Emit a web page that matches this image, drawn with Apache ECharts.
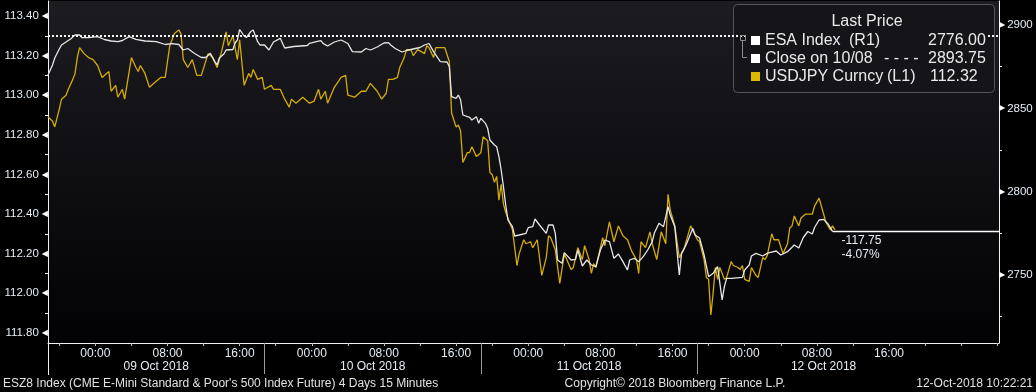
<!DOCTYPE html>
<html><head><meta charset="utf-8">
<script src="https://cdn.jsdelivr.net/npm/echarts@6.0.0/dist/echarts.min.js"></script>
<style>html,body{margin:0;padding:0;background:#000;overflow:hidden}#c{width:1036px;height:392px}</style>
</head><body><div id="c"></div>
<script>
// ---- DATA (hours since 09 Oct 2018 00:00) ----
const esaHours = [
-5.25,-4.75,-4.5,-4,-3.75,-3.25,-2.75,-2.25,-1.75,-1.5,
-0.75,0.25,1,1.75,2.5,3,3.75,4.5,5.5,6.75,
7.75,8.5,9.25,9.75,10.25,11,11.75,12.25,12.75,13.25,
13.5,13.75,14.25,14.5,15.25,15.5,15.75,16,16.5,16.75,
17.25,17.5,18,18.25,18.75,19.25,19.75,20.5,21,22,
23.5,23.75,24.5,25,25.25,25.75,26.5,27.25,28,28.5,
29.5,30,30.5,31.25,32,32.5,32.75,33.25,34,34.5,
35.25,36,36.5,37,37.5,38.25,39,39.25,39.5,40,
40.25,40.5,40.75,41.5,41.75,42.25,42.5,42.75,43.25,43.5,
43.75,44.25,44.5,44.75,45,45.25,45.5,45.75,46.25,46.5,
47,47.75,48,48.5,48.75,49.25,50,50.25,50.75,51,
51.25,51.75,52,52.75,53.25,53.5,54,54.5,55,55.5,
56,56.5,57,57.5,58,58.5,59,59.25,59.75,60.25,
60.75,61.25,61.75,62,62.5,63,63.5,63.75,64.25,64.75,
65,65.5,66.25,66.5,67,67.5,68,68.5,69,69.5,
69.75,70,70.5,71.75,72,72.5,72.75,73.25,74,74.5,
74.75,75.5,76,76.75,77.5,78,78.5,79,79.5,79.75,
80.25,80.75,81.25,81.75
];
const esaValues = [
2870,2876,2880.2,2885.6,2888,2889.8,2891.6,2894,2894,2892.5,
2892.4,2893,2891.3,2890.4,2890,2890.7,2893,2891.4,2890.4,2890,
2888.3,2888.8,2888.3,2885,2885.9,2882.9,2880.5,2880.5,2883,2878,
2876,2880.2,2882.6,2885,2885.3,2889.2,2891,2897.3,2893.4,2892.5,
2896.1,2897,2890,2888,2888,2885,2889.8,2892,2886.2,2887.1,
2887.7,2889,2890,2890.6,2889,2887.4,2889.8,2891,2888.9,2884,
2883.8,2885.9,2885,2886.8,2889.2,2889.4,2888,2885.9,2883.8,2884.7,
2885.6,2886.5,2888,2888.9,2884,2878,2877.8,2875,2857,2856,
2858,2855,2846,2844.6,2843,2845,2841,2844,2841,2838,
2831,2828,2827,2821,2813,2803,2792,2783,2779,2773.4,
2774,2775,2778.4,2779,2783.6,2780,2775,2780,2780,2775,
2759,2757,2763.4,2759,2759.4,2765,2755.4,2759,2756,2755,
2765,2771,2770,2760,2762.6,2758,2753,2759,2760,2758,
2761,2765,2770,2775.4,2781,2779,2791,2786,2779,2750,
2763,2768,2778,2774,2772.2,2762,2749,2751,2755,2735,
2743,2748,2748,2748.6,2753,2756,2761.4,2763,2761.4,2763,
2763.4,2764.4,2762,2764,2768,2766.2,2772.5,2776.1,2774.6,2778.5,
2783,2783.4,2780.6,2776
];
const jpyHours = [
-5.25,-4.75,-4.5,-4,-3.75,-3.25,-3,-2.5,-2.25,-2,
-1.75,-1.25,-0.75,-0.25,0.25,0.75,1,1.5,1.75,2.25,
2.5,3,3.25,4,4.5,4.75,5,5.5,6,6.75,
7.25,7.75,8.25,8.75,9.25,9.5,9.75,10.25,10.75,11.25,
11.75,12.5,13,13.5,14,14.5,14.75,15.25,15.75,16,
16.5,17,17.25,17.5,18,18.5,18.75,19.5,19.75,20.5,
21,21.5,21.75,22.25,23,23.25,23.75,24.25,24.75,25,
25.5,25.75,26.5,27.25,27.75,28,28.75,29.5,30,30.5,
31.25,31.75,32.25,32.5,33,33.5,33.75,34.25,34.5,35,
35.25,35.75,36.5,36.75,37,37.5,37.75,38.25,38.75,39.25,
39.5,40,40.25,40.5,40.75,41.25,41.5,41.75,42.25,42.75,
43,43.5,43.75,44,44.25,44.5,44.75,45,45.25,45.5,
46,46.25,46.75,47,47.5,47.75,48.25,48.5,49,49.5,
50,50.25,50.5,51,51.5,52,52.75,53,53.5,54,
54.25,54.75,55,55.25,55.5,56.25,56.5,57,57.5,58,
58.5,59,59.5,60,60.25,60.5,61,61.5,61.75,62.25,
62.75,63.25,63.5,63.75,64.25,64.75,65.25,66,66.25,66.75,
67,67.5,67.75,68,68.25,68.5,68.75,69,69.25,69.75,
70,70.5,70.75,71.25,71.5,71.75,72,72.5,72.75,73.25,
73.5,74,74.25,74.5,75,75.25,75.75,76.25,76.75,77,
77.25,77.5,78,78.25,78.75,79.25,79.5,79.75,80.25,80.75,
81,81.5,81.75,82
];
const jpyValues = [
112.89,112.87,112.84,112.93,112.98,113.00,113.03,113.08,113.11,113.19,
113.24,113.21,113.19,113.18,113.15,113.09,113.10,113.12,113.02,113.05,
112.99,113.03,112.98,113.19,113.14,113.12,113.15,113.11,113.04,113.07,
113.09,113.09,113.25,113.31,113.33,113.31,113.18,113.14,113.18,113.10,
113.10,113.21,113.19,113.14,113.22,113.32,113.25,113.30,113.18,113.28,
113.05,113.11,113.09,113.13,113.08,113.09,113.03,113.05,113.03,113.03,
112.98,112.94,112.98,112.96,112.99,112.98,112.96,112.97,113.03,112.98,
113.02,112.96,113.04,113.09,113.10,113.00,112.99,113.02,113.02,113.06,
113.02,112.98,113.01,113.08,113.08,113.09,113.14,113.19,113.23,113.23,
113.20,113.23,113.21,113.25,113.24,113.19,113.24,113.24,113.24,113.17,
112.91,112.84,112.85,112.82,112.66,112.71,112.71,112.74,112.69,112.71,
112.79,112.77,112.61,112.60,112.56,112.59,112.47,112.55,112.45,112.41,
112.35,112.32,112.14,112.20,112.27,112.25,112.26,112.23,112.27,112.09,
112.18,112.29,112.28,112.22,112.05,112.20,112.12,112.13,112.23,112.17,
112.24,112.17,112.10,112.15,112.13,112.28,112.24,112.36,112.26,112.34,
112.29,112.27,112.21,112.17,112.10,112.26,112.23,112.31,112.25,112.17,
112.31,112.25,112.50,112.42,112.34,112.18,112.22,112.34,112.32,112.27,
112.26,112.17,112.08,112.07,111.89,112.00,112.13,112.07,112.13,112.07,
112.08,112.16,112.14,112.13,112.12,112.14,112.07,112.06,112.13,112.09,
112.08,112.18,112.17,112.19,112.30,112.27,112.27,112.20,112.25,112.33,
112.34,112.39,112.34,112.38,112.40,112.40,112.40,112.44,112.48,112.40,
112.36,112.32,112.34,112.32
];
const closeValue = 2893.75;
const closeLabel = 'Close on 10/08';
const leftLabels = [111.8,112.0,112.2,112.4,112.6,112.8,113.0,113.2,113.4];
const leftTicks = [111.8,111.9,112.0,112.1,112.2,112.3,112.4,112.5,112.6,112.7,112.8,112.9,113.0,113.1,113.2,113.3,113.4];
const rightLabels = [2750,2800,2850,2900];
const rightTicks = [2725,2750,2775,2800,2825,2850,2875,2900];
const timeLabels = [0,8,16,24,32,40,48,56,64,72,80,88];
const timeTicks = [-4,0,4,8,12,16,20,24,28,32,36,40,44,48,52,56,60,64,68,72,76,80,84,88,92,96,100];
const dayNames = ['09 Oct 2018','10 Oct 2018','11 Oct 2018','12 Oct 2018'];
const dayCenters = [6.75,30.75,54.75,80.75];
const daySeparators = [18.75,42.75,66.75];
const footerLeft = "ESZ8 Index (CME E-Mini Standard & Poor's 500 Index Future) 4 Days 15 Minutes";
const footerMid = 'Copyright\u00a9 2018 Bloomberg Finance L.P.';
const footerRight = '12-Oct-2018 10:22:21';

// ---- CHART ----
const X_MIN = -5.25, X_MAX = 100.2;
const FONT = 'Liberation Sans';
const TXT = '#e6edf5';
const esaData = esaHours.map((h, i) => [h, esaValues[i]]);
const jpyData = jpyHours.map((h, i) => [h, jpyValues[i]]);
const lastEsa = esaValues[esaValues.length - 1];
const lastJpy = jpyValues[jpyValues.length - 1];
const lastH = esaHours[esaHours.length - 1];
const chg = lastEsa - closeValue;
const pct = chg / closeValue * 100;
const hhmm = v => { const h = ((v % 24) + 24) % 24; return String(h).padStart(2, '0') + ':00'; };

const chart = echarts.init(document.getElementById('c'), null, { renderer: 'canvas' });
const legendRow = (y, sq, name, nameX, suffix, suffixX, val, valX) => {
  const st = { font: '16px "Liberation Sans"', fill: '#e9e9e9', verticalAlign: 'middle' };
  const els = [
    { type: 'rect', shape: { x: 751, y: y - 4.5, width: 9, height: 9 }, style: { fill: sq }, z: 102 },
    { type: 'text', style: Object.assign({ x: nameX, y: y, text: name }, st), z: 102 },
    { type: 'text', style: Object.assign({ x: valX, y: y, text: val }, st), z: 102 }
  ];
  if (suffix) els.push({ type: 'text', style: Object.assign({ x: suffixX, y: y, text: suffix }, st), z: 102 });
  return els;
};
const option = {
  backgroundColor: '#000',
  animation: false,
  grid: { left: 48, right: 37, top: 1, bottom: 49, show: true, borderWidth: 0,
    backgroundColor: { type: 'linear', x: 0, y: 0, x2: 0, y2: 1,
      colorStops: [{ offset: 0, color: '#1c1c21' }, { offset: 1, color: '#020204' }] } },
  xAxis: [
    { type: 'value', min: X_MIN, max: X_MAX, position: 'bottom',
      axisLine: { show: true, onZero: false, lineStyle: { color: '#f2f2f2', width: 1 } },
      axisTick: { show: true, customValues: timeTicks, length: 3, lineStyle: { color: '#bdbdbd' } },
      axisLabel: { customValues: timeLabels, formatter: hhmm, color: TXT, fontFamily: FONT, fontSize: 12, margin: 5 },
      splitLine: { show: false } },
    { type: 'value', min: X_MIN, max: X_MAX, position: 'bottom',
      axisLine: { show: false, onZero: false },
      axisTick: { show: true, customValues: daySeparators, length: 31, lineStyle: { color: '#9c9c9c' } },
      axisLabel: { customValues: dayCenters, formatter: v => dayNames[dayCenters.indexOf(v)], color: TXT, fontFamily: FONT, fontSize: 12, margin: 18 },
      splitLine: { show: false } },
    { type: 'value', min: X_MIN, max: X_MAX, position: 'bottom',
      axisLine: { show: false, onZero: false },
      axisTick: { show: true, customValues: [X_MIN], length: 32, lineStyle: { color: '#f2f2f2' } },
      axisLabel: { show: false }, splitLine: { show: false } }
  ],
  yAxis: [
    { type: 'value', min: 111.7487, max: 113.4758, position: 'left',
      axisLine: { show: true, onZero: false, lineStyle: { color: '#f2f2f2' } },
      axisTick: { show: true, customValues: leftTicks, length: 3, lineStyle: { color: '#f2f2f2' } },
      axisLabel: { customValues: leftLabels, formatter: v => v.toFixed(2) + '{a|\u25C0}', margin: 0,
        color: TXT, fontFamily: FONT, fontSize: 11.5,
        rich: { a: { fontFamily: 'DejaVu Sans', fontSize: 8, color: '#ffffff', padding: [0, 0, 0, 3] } } },
      splitLine: { show: false } },
    { type: 'value', min: 2709.2, max: 2914.4, position: 'right',
      axisLine: { show: true, onZero: false, lineStyle: { color: '#f2f2f2' } },
      axisTick: { show: true, customValues: rightTicks, length: 3, lineStyle: { color: '#f2f2f2' } },
      axisLabel: { customValues: rightLabels, formatter: v => '{a|\u25B6}' + v, margin: 0,
        color: TXT, fontFamily: FONT, fontSize: 11.5,
        rich: { a: { fontFamily: 'DejaVu Sans', fontSize: 8, color: '#ffffff', padding: [0, 2, 0, 0] } } },
      splitLine: { show: false } }
  ],
  series: [
    { name: 'USDJPY Curncy', type: 'line', xAxisIndex: 0, yAxisIndex: 0, data: jpyData,
      showSymbol: false, symbol: 'none', lineStyle: { color: '#d4ab08', width: 1.3 }, z: 2 },
    { name: 'ESA Index', type: 'line', xAxisIndex: 0, yAxisIndex: 1, data: esaData,
      showSymbol: false, symbol: 'none', lineStyle: { color: '#e6e6e6', width: 1.3 }, z: 3,
      markLine: { symbol: 'none', silent: true, animation: false, z: 4,
        data: [
          { yAxis: closeValue, lineStyle: { color: '#f4f4f4', width: 2, type: [2, 2] }, label: { show: false } },
          [ { coord: [lastH, lastEsa], lineStyle: { color: '#ffffff', width: 1.3, type: 'solid' },
              label: { show: true, position: 'insideStartBottom', distance: [9, 2],
                formatter: chg.toFixed(2) + '\n' + pct.toFixed(2) + '%',
                color: TXT, fontFamily: FONT, fontSize: 12, lineHeight: 14, align: 'left' } },
            { coord: [X_MAX, lastEsa] } ]
        ] } }
  ],
  graphic: [
    { type: 'rect', shape: { x: 733.5, y: 4.5, width: 261, height: 88, r: 4 }, style: { fill: '#151519', stroke: '#55555a', lineWidth: 1 }, z: 1 },
    { type: 'rect', shape: { x: 747, y: 32, width: 240, height: 54 }, style: { fill: '#151519' }, z: 101 },
    { type: 'text', style: { x: 867, y: 22, text: 'Last Price', font: '16px "Liberation Sans"', fill: '#e9e9e9', align: 'center', verticalAlign: 'middle' }, z: 102 },
    { type: 'rect', shape: { x: 740.5, y: 35.5, width: 5, height: 5 }, style: { fill: 'none', stroke: '#8a8a8a', lineWidth: 1 }, z: 102 },
    { type: 'polyline', shape: { points: [[742.5, 41], [742.5, 57.5], [747, 57.5]] }, style: { stroke: '#8a8a8a', lineWidth: 1, fill: 'none' }, z: 102 },
    ...legendRow(40.5, '#ffffff', 'ESA Index', 765, '(R1)', 849, lastEsa.toFixed(2), 928),
    ...legendRow(58.5, '#ffffff', closeLabel, 765, '- - - -', 884, closeValue.toFixed(2), 928),
    ...legendRow(76.5, '#dcb800', 'USDJPY Curncy', 765, '(L1)', 887, lastJpy.toFixed(2), 930),
    { type: 'text', style: { x: 3, y: 384, text: footerLeft, font: '12px "Liberation Sans"', fill: '#e2e2e2', verticalAlign: 'middle' }, z: 102 },
    { type: 'text', style: { x: 675, y: 384, text: footerMid, font: '12px "Liberation Sans"', fill: '#e2e2e2', align: 'center', verticalAlign: 'middle' }, z: 102 },
    { type: 'text', style: { x: 1033, y: 384, text: footerRight, font: '12px "Liberation Sans"', fill: '#e2e2e2', align: 'right', verticalAlign: 'middle' }, z: 102 }
  ]
};
chart.setOption(option);
</script>
</body></html>
